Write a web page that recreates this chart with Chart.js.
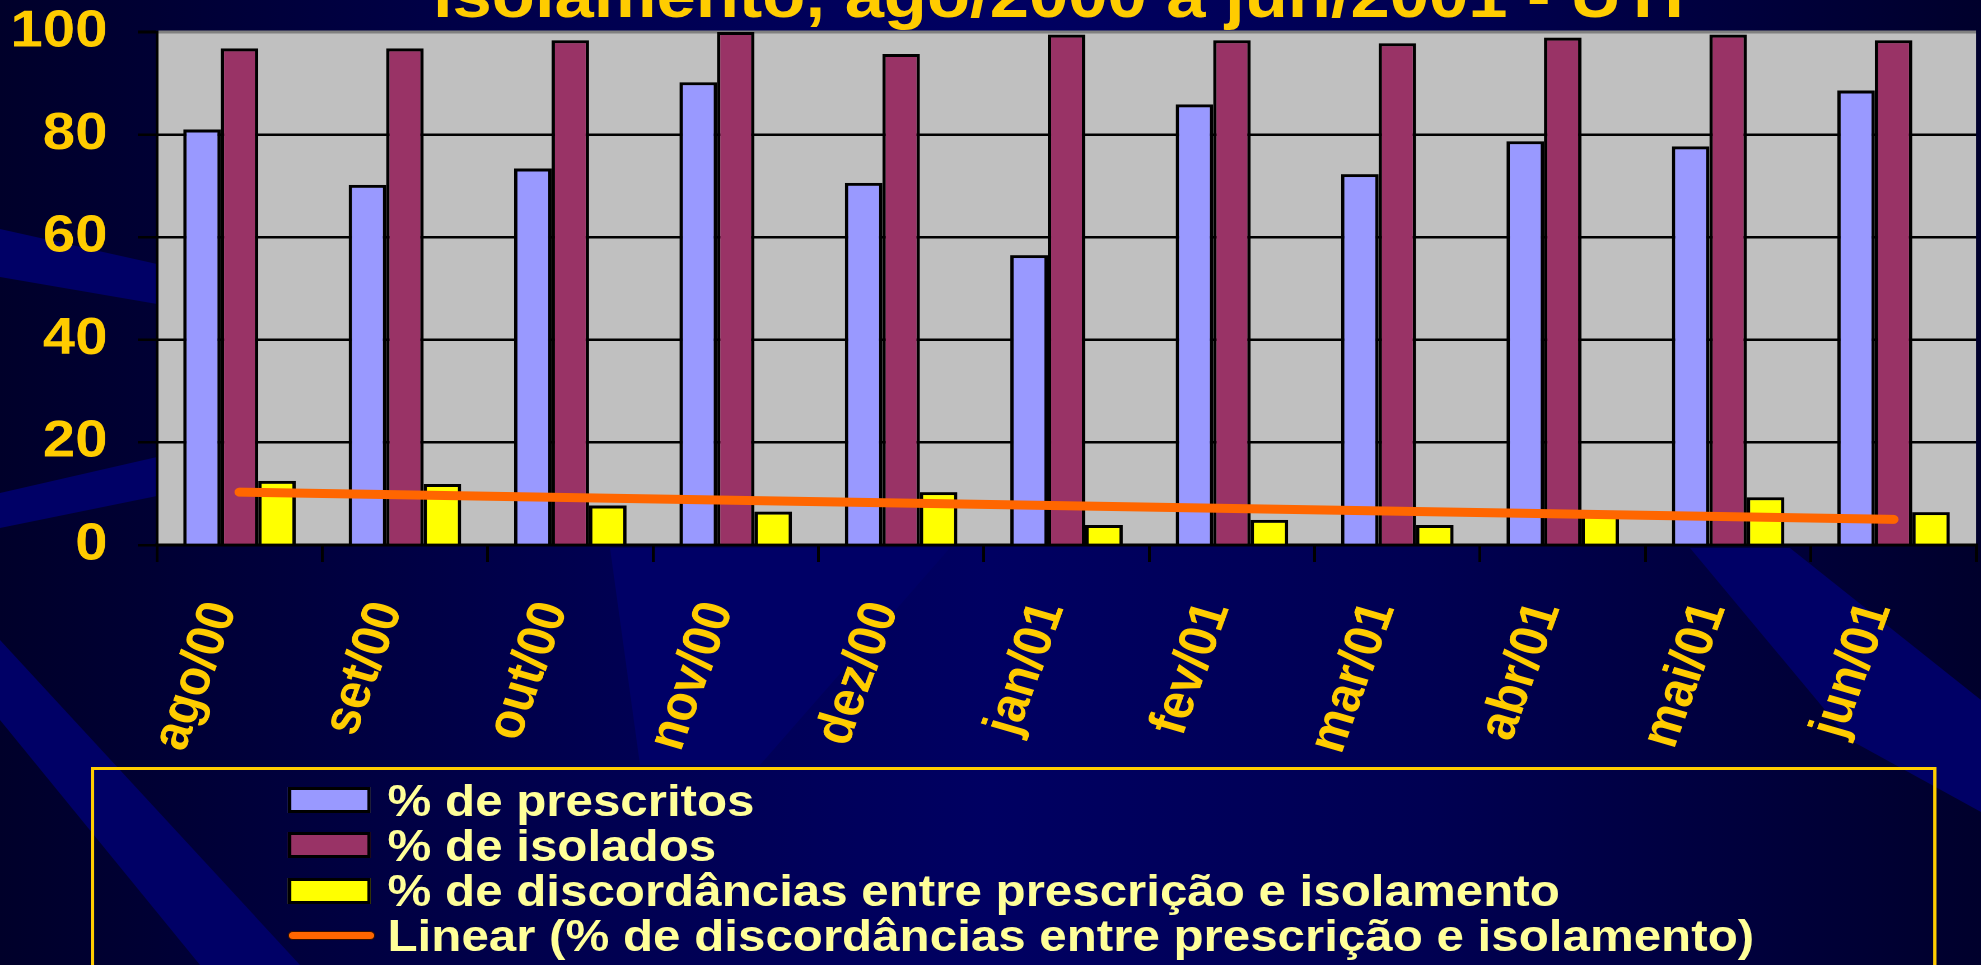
<!DOCTYPE html>
<html>
<head>
<meta charset="utf-8">
<script src="https://cdn.jsdelivr.net/npm/chart.js@4.4.1/dist/chart.umd.min.js"></script>
<style>
    html, body { margin: 0; padding: 0; width: 1981px; height: 965px; overflow: hidden; background: #000038; }
    #bg { position: absolute; left: 0; top: 0; }
    /* the slide was stretched sideways, so everything is laid out narrower and scaled */
    #stage { position: absolute; left: 0; top: 0; width: 1769px; height: 965px; transform: scaleX(1.12); transform-origin: 0 0; }
    #title { position: absolute; left: 0; top: -36px; width: 1890px; text-align: center; white-space: nowrap;
             font: bold 63px "Liberation Sans", Arial, sans-serif; line-height: 63px; color: #FFCC00; }
    #chartBox { position: absolute; left: 0; top: 0; width: 1769px; height: 780px; }
    #legend { position: absolute; left: 81px; top: 767px; width: 1648px; height: 260px; border: 3px solid #FFCC00; box-sizing: border-box; }
    .row { position: absolute; left: 173px; height: 45px; display: flex; align-items: center; white-space: nowrap;
           font: bold 44px "Liberation Sans", Arial, sans-serif; line-height: 45px; color: #FFFF99; }
    .sw { width: 74px; height: 26px; border: 3px solid #000; box-sizing: border-box; margin-right: 15px; }
    .ln { width: 78px; height: 9px; border-radius: 5px; border: 1px solid #331100; box-sizing: border-box; margin-right: 11px; }
</style>
</head>
<body>
<svg id="bg" width="1981" height="965">
    <defs>
        <linearGradient id="base" x1="0" y1="0" x2="1" y2="0">
            <stop offset="0" stop-color="#00002A"/>
            <stop offset="0.3" stop-color="#000050"/>
            <stop offset="0.5" stop-color="#000062"/>
            <stop offset="0.72" stop-color="#000052"/>
            <stop offset="1" stop-color="#00002C"/>
        </linearGradient>
    </defs>
    <rect width="1981" height="965" fill="url(#base)"/>
    <polygon points="0,229 157,264 157,304 0,277" fill="#000066"/>
    <polygon points="0,493 157,457 157,496 0,528" fill="#000066"/>
    <polygon points="0,640 120,770 300,965 200,965 0,720" fill="#000066"/>
    <polygon points="610,548 950,548 760,765 640,765" fill="#000066"/>
    <polygon points="1690,548 1790,548 1981,700 1981,812 1850,740" fill="#000066"/>
</svg>

<div id="stage">
    <div id="title">isolamento, ago/2000 a jun/2001 - UTI</div>
    <div id="chartBox"><canvas id="chart"></canvas></div>
    <div id="legend"></div>
</div>

<script>
const categories = ['ago/00', 'set/00', 'out/00', 'nov/00', 'dez/00', 'jan/01', 'fev/01', 'mar/01', 'abr/01', 'mai/01', 'jun/01'];
const prescritos = [81.0, 70.2, 73.4, 90.2, 70.6, 56.5, 85.9, 72.3, 78.7, 77.7, 88.6];
const isolados = [96.8, 96.8, 98.4, 100, 95.7, 99.5, 98.4, 97.8, 98.9, 99.5, 98.4];
const discordancias = [12.5, 11.9, 7.7, 6.5, 10.3, 3.9, 4.9, 3.9, 6.0, 9.3, 6.4];
// trendline ends
const trendStart = 10.3;
const trendEnd = 5.0;
const yTicks = [0, 20, 40, 60, 80, 100];

const seriesNames = [
    '% de prescritos',
    '% de isolados',
    '% de discordâncias entre prescrição e isolamento',
    'Linear (% de discordâncias entre prescrição e isolamento)'
];
const seriesColors = ['#9999FF', '#993366', '#FFFF00', '#FF6600'];

const trend = categories.map((c, i) => i === 0 ? trendStart : (i === categories.length - 1 ? trendEnd : null));

const plotBg = {
    id: 'plotBg',
    beforeDraw(chart) {
        const { ctx, chartArea: a } = chart;
        ctx.save();
        ctx.fillStyle = '#C0C0C0';
        ctx.fillRect(a.left, a.top, a.right - a.left, a.bottom - a.top);
        ctx.restore();
    }
};

const font = 'Liberation Sans, Arial, sans-serif';

function noPad(s) {
    s.paddingTop = 0; s.paddingBottom = 0; s.paddingLeft = 0; s.paddingRight = 0;
}

const chart = new Chart(document.getElementById('chart'), {
    type: 'bar',
    data: {
        labels: categories,
        datasets: [
            { label: seriesNames[0], data: prescritos, backgroundColor: seriesColors[0], borderColor: '#000', borderWidth: 3, order: 1 },
            { label: seriesNames[1], data: isolados, backgroundColor: seriesColors[1], borderColor: '#000', borderWidth: 3, order: 1 },
            { label: seriesNames[2], data: discordancias, backgroundColor: seriesColors[2], borderColor: '#000', borderWidth: 3, order: 1 },
            {
                type: 'line', label: seriesNames[3], data: trend, spanGaps: true,
                borderColor: seriesColors[3], borderWidth: 9, borderCapStyle: 'round',
                pointRadius: 0, fill: false, order: 0
            }
        ]
    },
    plugins: [plotBg],
    options: {
        responsive: true,
        maintainAspectRatio: false,
        devicePixelRatio: 2,
        animation: false,
        layout: { padding: { top: 32, left: 0, right: 0, bottom: 0 } },
        datasets: { bar: { categoryPercentage: 0.68, barPercentage: 1.0 } },
        plugins: { legend: { display: false }, tooltip: { enabled: false } },
        scales: {
            x: {
                afterFit: (s) => { s.height = 235; noPad(s); },
                grid: { drawOnChartArea: false, drawTicks: true, tickLength: 17, color: '#000', lineWidth: 2.5 },
                border: { color: '#000', width: 3 },
                ticks: {
                    autoSkip: false, minRotation: 72, maxRotation: 72, padding: 33, labelOffset: -15,
                    color: '#FFCC00', font: { family: font, size: 48, weight: 'bold' }
                }
            },
            y: {
                min: 0, max: 100,
                afterFit: (s) => { s.width = 140; noPad(s); },
                afterBuildTicks: (s) => { s.ticks = yTicks.map(v => ({ value: v })); },
                grid: {
                    color: (c) => c.tick && c.tick.value === 100 ? '#808080' : '#000',
                    lineWidth: (c) => c.tick && c.tick.value === 100 ? 3 : 2.5,
                    tickColor: '#000', tickLength: 17, drawTicks: true
                },
                border: { color: '#000', width: 2.5 },
                ticks: { padding: 27, color: '#FFCC00', font: { family: font, size: 52, weight: 'bold' } }
            }
        }
    }
});

// legend built from the series
const legend = document.getElementById('legend');
seriesNames.forEach((name, i) => {
    const row = document.createElement('div');
    row.className = 'row';
    row.style.top = (33 + i * 45.3 - 22.5 - 3) + 'px';
    const mark = document.createElement('div');
    mark.className = i === 3 ? 'ln' : 'sw';
    mark.style.background = seriesColors[i];
    const txt = document.createElement('span');
    txt.textContent = name;
    row.appendChild(mark);
    row.appendChild(txt);
    legend.appendChild(row);
});
</script>
</body>
</html>
